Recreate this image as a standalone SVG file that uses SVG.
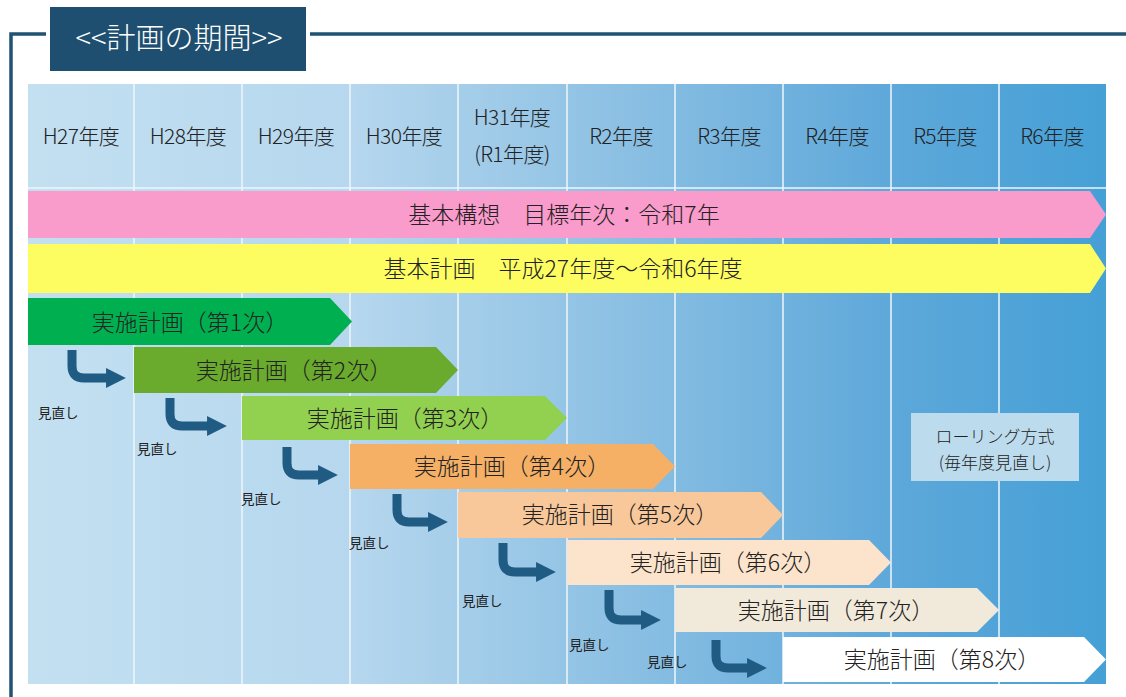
<svg xmlns="http://www.w3.org/2000/svg" width="1126" height="697" viewBox="0 0 1126 697">
<defs>
<linearGradient id="bg" x1="28" y1="0" x2="1106" y2="0" gradientUnits="userSpaceOnUse">
<stop offset="0" stop-color="#c3e0f1"/>
<stop offset="0.3" stop-color="#b6d7ee"/>
<stop offset="0.55" stop-color="#8cc0e3"/>
<stop offset="0.8" stop-color="#5ea8da"/>
<stop offset="1" stop-color="#45a0d6"/>
</linearGradient>
<marker id="ah" viewBox="0 0 10 10" refX="2" refY="5" markerWidth="2.2" markerHeight="2.4" orient="auto" markerUnits="strokeWidth">
<path d="M0,0 L10,5 L0,10 Z" fill="#1f5b82"/>
</marker>
<style>
text{font-family:"Noto Sans CJK JP","Noto Sans",sans-serif;fill:#222;font-weight:300}
.hd{font-size:21px;text-anchor:middle;letter-spacing:-0.6px}
.bt{font-size:23px;text-anchor:middle}
.sm{font-size:13.5px;font-weight:400}
.arr{fill:none;stroke:#1f5b82;stroke-width:9}
.sep{stroke:#eef6fb;stroke-width:1.5}
</style>
</defs>
<rect width="1126" height="697" fill="#ffffff"/>
<g id="frame">
<path d="M11,697 V34 H46 M310,34 H1126" fill="none" stroke="#1f5273" stroke-width="3.5"/>
</g>
<g id="title">
<rect x="50" y="7" width="256" height="64" fill="#1e4f70"/>
<text x="179" y="49" font-size="29" text-anchor="middle" style="fill:#ffffff">&lt;&lt;計画の期間&gt;&gt;</text>
</g>
<g id="grid">
<rect x="28" y="84" width="1078" height="600" fill="url(#bg)"/>
<path class="sep" d="M134,84V684M242,84V684M350,84V684M458,84V684M567,84V684M675,84V684M783,84V684M891,84V684M999,84V684M28,188H1106"/>
<text class="hd" x="81" y="144">H27年度</text>
<text class="hd" x="188" y="144">H28年度</text>
<text class="hd" x="296" y="144">H29年度</text>
<text class="hd" x="404" y="144">H30年度</text>
<text class="hd" x="512" y="125">H31年度</text>
<text class="hd" x="512" y="162">(R1年度)</text>
<text class="hd" x="621" y="144">R2年度</text>
<text class="hd" x="729" y="144">R3年度</text>
<text class="hd" x="837" y="144">R4年度</text>
<text class="hd" x="945" y="144">R5年度</text>
<text class="hd" x="1052" y="144">R6年度</text>
</g>
<g id="kihon-koso">
<polygon points="28,191 1090,191 1106,214.5 1090,238 28,238" fill="#f99bcb"/>
<text class="bt" x="564" y="223">基本構想　目標年次：令和7年</text>
</g>
<g id="kihon-keikaku">
<polygon points="28,244 1090,244 1106,268.5 1090,293 28,293" fill="#fdfd62"/>
<text class="bt" x="563" y="277">基本計画　平成27年度～令和6年度</text>
</g>
<g id="plan1">
<polygon points="28,298 330,298 352,321.5 330,345 28,345" fill="#00b050"/>
<text class="bt" x="190" y="331">実施計画（第1次）</text>
</g>
<g id="plan2">
<polygon points="134,347 436,347 458,370 436,393 134,393" fill="#6aab2e"/>
<text class="bt" x="294" y="379">実施計画（第2次）</text>
</g>
<g id="plan3">
<polygon points="242,396 545,396 567,418 545,440 242,440" fill="#92d050"/>
<text class="bt" x="405" y="427">実施計画（第3次）</text>
</g>
<g id="plan4">
<polygon points="350,444 653,444 675,466.5 653,489 350,489" fill="#f5b066"/>
<text class="bt" x="512" y="475">実施計画（第4次）</text>
</g>
<g id="plan5">
<polygon points="458,492 761,492 783,515 761,538 458,538" fill="#f8c89a"/>
<text class="bt" x="620" y="523">実施計画（第5次）</text>
</g>
<g id="plan6">
<polygon points="567,540 869,540 891,562.5 869,585 567,585" fill="#fce4cc"/>
<text class="bt" x="728" y="571">実施計画（第6次）</text>
</g>
<g id="plan7">
<polygon points="675,588 977,588 999,610 977,632 675,632" fill="#f1e9da"/>
<text class="bt" x="836" y="619">実施計画（第7次）</text>
</g>
<g id="plan8">
<polygon points="783,637 1084,637 1106,659.5 1084,682 783,682" fill="#ffffff"/>
<text class="bt" x="942" y="668">実施計画（第8次）</text>
</g>
<g id="rolling">
<rect x="911" y="413" width="168" height="68" fill="#bcdcee"/>
<text class="hd" x="995" y="443" style="font-size:17px;letter-spacing:0">ローリング方式</text>
<text class="hd" x="995" y="469" style="font-size:17px;letter-spacing:0">(毎年度見直し)</text>
</g>
<g id="connectors">
<path class="arr" marker-end="url(#ah)" d="M72,350 V366 Q72,378 84,378 H110"/>
<path class="arr" marker-end="url(#ah)" d="M170,398 V414 Q170,426 182,426 H211"/>
<path class="arr" marker-end="url(#ah)" d="M287,447 V463 Q287,475 299,475 H322"/>
<path class="arr" marker-end="url(#ah)" d="M397,494 V510 Q397,522 409,522 H432"/>
<path class="arr" marker-end="url(#ah)" d="M503,543 V560 Q503,572 515,572 H540"/>
<path class="arr" marker-end="url(#ah)" d="M609,590 V608 Q609,620 621,620 H645"/>
<path class="arr" marker-end="url(#ah)" d="M716,640 V656 Q716,668 728,668 H751"/>
</g>
<g id="labels">
<text class="sm" x="38" y="418">見直し</text>
<text class="sm" x="137" y="454">見直し</text>
<text class="sm" x="241" y="504">見直し</text>
<text class="sm" x="349" y="548">見直し</text>
<text class="sm" x="462" y="606">見直し</text>
<text class="sm" x="569" y="650">見直し</text>
<text class="sm" x="647" y="667">見直し</text>
</g>
</svg>
